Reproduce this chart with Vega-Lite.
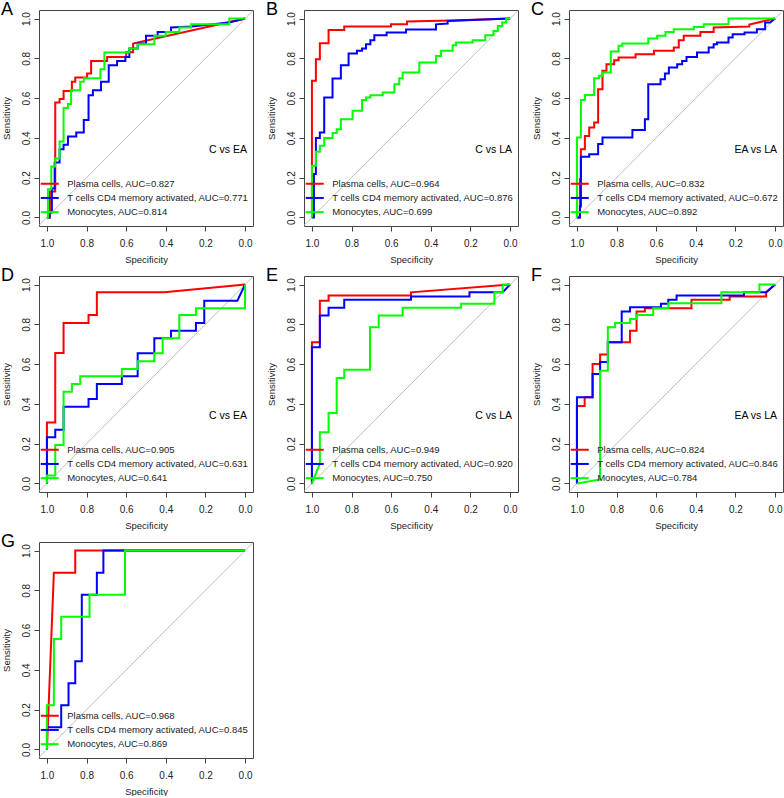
{
"$schema":"https://vega.github.io/schema/vega-lite/v6.json",
"padding":0,
"background":"white",
"datasets":{
"panels":[
{"p":"A","cmp":"C vs EA"},{"p":"B","cmp":"C vs LA"},{"p":"C","cmp":"EA vs LA"},
{"p":"D","cmp":"C vs EA"},{"p":"E","cmp":"C vs LA"},{"p":"F","cmp":"EA vs LA"},{"p":"G","cmp":""}
],
"roc":[
{"p":"A","s":"P","spec":1,"sens":0},{"p":"A","s":"P","spec":0.985,"sens":0},{"p":"A","s":"P","spec":0.985,"sens":0.13},{"p":"A","s":"P","spec":0.958,"sens":0.13},{"p":"A","s":"P","spec":0.958,"sens":0.578},{"p":"A","s":"P","spec":0.936,"sens":0.578},{"p":"A","s":"P","spec":0.936,"sens":0.595},{"p":"A","s":"P","spec":0.916,"sens":0.595},{"p":"A","s":"P","spec":0.916,"sens":0.636},{"p":"A","s":"P","spec":0.874,"sens":0.636},{"p":"A","s":"P","spec":0.874,"sens":0.682},{"p":"A","s":"P","spec":0.857,"sens":0.682},{"p":"A","s":"P","spec":0.857,"sens":0.703},{"p":"A","s":"P","spec":0.797,"sens":0.703},{"p":"A","s":"P","spec":0.797,"sens":0.724},{"p":"A","s":"P","spec":0.777,"sens":0.724},{"p":"A","s":"P","spec":0.777,"sens":0.787},{"p":"A","s":"P","spec":0.696,"sens":0.787},{"p":"A","s":"P","spec":0.696,"sens":0.807},{"p":"A","s":"P","spec":0.6,"sens":0.807},{"p":"A","s":"P","spec":0.6,"sens":0.83},{"p":"A","s":"P","spec":0.565,"sens":0.83},{"p":"A","s":"P","spec":0.565,"sens":0.874},{"p":"A","s":"P","spec":0,"sens":1},
{"p":"A","s":"T","spec":1,"sens":0},{"p":"A","s":"T","spec":0.987,"sens":0},{"p":"A","s":"T","spec":0.987,"sens":0.025},{"p":"A","s":"T","spec":0.975,"sens":0.025},{"p":"A","s":"T","spec":0.975,"sens":0.146},{"p":"A","s":"T","spec":0.961,"sens":0.146},{"p":"A","s":"T","spec":0.961,"sens":0.276},{"p":"A","s":"T","spec":0.936,"sens":0.276},{"p":"A","s":"T","spec":0.936,"sens":0.343},{"p":"A","s":"T","spec":0.916,"sens":0.343},{"p":"A","s":"T","spec":0.916,"sens":0.365},{"p":"A","s":"T","spec":0.894,"sens":0.365},{"p":"A","s":"T","spec":0.894,"sens":0.407},{"p":"A","s":"T","spec":0.852,"sens":0.407},{"p":"A","s":"T","spec":0.852,"sens":0.427},{"p":"A","s":"T","spec":0.814,"sens":0.427},{"p":"A","s":"T","spec":0.814,"sens":0.49},{"p":"A","s":"T","spec":0.79,"sens":0.49},{"p":"A","s":"T","spec":0.79,"sens":0.615},{"p":"A","s":"T","spec":0.768,"sens":0.615},{"p":"A","s":"T","spec":0.768,"sens":0.64},{"p":"A","s":"T","spec":0.727,"sens":0.64},{"p":"A","s":"T","spec":0.727,"sens":0.682},{"p":"A","s":"T","spec":0.688,"sens":0.682},{"p":"A","s":"T","spec":0.688,"sens":0.765},{"p":"A","s":"T","spec":0.646,"sens":0.765},{"p":"A","s":"T","spec":0.646,"sens":0.787},{"p":"A","s":"T","spec":0.604,"sens":0.787},{"p":"A","s":"T","spec":0.604,"sens":0.807},{"p":"A","s":"T","spec":0.584,"sens":0.807},{"p":"A","s":"T","spec":0.584,"sens":0.849},{"p":"A","s":"T","spec":0.542,"sens":0.849},{"p":"A","s":"T","spec":0.542,"sens":0.874},{"p":"A","s":"T","spec":0.5,"sens":0.874},{"p":"A","s":"T","spec":0.5,"sens":0.913},{"p":"A","s":"T","spec":0.441,"sens":0.913},{"p":"A","s":"T","spec":0.441,"sens":0.933},{"p":"A","s":"T","spec":0.374,"sens":0.933},{"p":"A","s":"T","spec":0.374,"sens":0.955},{"p":"A","s":"T","spec":0.27,"sens":0.96},{"p":"A","s":"T","spec":0.08,"sens":0.98},{"p":"A","s":"T","spec":0,"sens":1},
{"p":"A","s":"M","spec":1,"sens":0},{"p":"A","s":"M","spec":0.995,"sens":0},{"p":"A","s":"M","spec":0.995,"sens":0.142},{"p":"A","s":"M","spec":0.978,"sens":0.142},{"p":"A","s":"M","spec":0.978,"sens":0.256},{"p":"A","s":"M","spec":0.958,"sens":0.256},{"p":"A","s":"M","spec":0.958,"sens":0.296},{"p":"A","s":"M","spec":0.936,"sens":0.296},{"p":"A","s":"M","spec":0.936,"sens":0.382},{"p":"A","s":"M","spec":0.916,"sens":0.382},{"p":"A","s":"M","spec":0.916,"sens":0.55},{"p":"A","s":"M","spec":0.894,"sens":0.55},{"p":"A","s":"M","spec":0.894,"sens":0.57},{"p":"A","s":"M","spec":0.878,"sens":0.57},{"p":"A","s":"M","spec":0.878,"sens":0.64},{"p":"A","s":"M","spec":0.832,"sens":0.64},{"p":"A","s":"M","spec":0.832,"sens":0.682},{"p":"A","s":"M","spec":0.814,"sens":0.682},{"p":"A","s":"M","spec":0.814,"sens":0.7},{"p":"A","s":"M","spec":0.73,"sens":0.7},{"p":"A","s":"M","spec":0.73,"sens":0.745},{"p":"A","s":"M","spec":0.71,"sens":0.745},{"p":"A","s":"M","spec":0.71,"sens":0.829},{"p":"A","s":"M","spec":0.584,"sens":0.829},{"p":"A","s":"M","spec":0.584,"sens":0.849},{"p":"A","s":"M","spec":0.542,"sens":0.849},{"p":"A","s":"M","spec":0.542,"sens":0.871},{"p":"A","s":"M","spec":0.458,"sens":0.871},{"p":"A","s":"M","spec":0.458,"sens":0.913},{"p":"A","s":"M","spec":0.4,"sens":0.913},{"p":"A","s":"M","spec":0.4,"sens":0.933},{"p":"A","s":"M","spec":0.332,"sens":0.933},{"p":"A","s":"M","spec":0.332,"sens":0.955},{"p":"A","s":"M","spec":0.273,"sens":0.955},{"p":"A","s":"M","spec":0.273,"sens":0.971},{"p":"A","s":"M","spec":0.08,"sens":0.971},{"p":"A","s":"M","spec":0.08,"sens":1},{"p":"A","s":"M","spec":0,"sens":1},

{"p":"B","s":"P","spec":1,"sens":0},{"p":"B","s":"P","spec":1,"sens":0.687},{"p":"B","s":"P","spec":0.98,"sens":0.687},{"p":"B","s":"P","spec":0.98,"sens":0.796},{"p":"B","s":"P","spec":0.96,"sens":0.796},{"p":"B","s":"P","spec":0.96,"sens":0.876},{"p":"B","s":"P","spec":0.916,"sens":0.876},{"p":"B","s":"P","spec":0.916,"sens":0.943},{"p":"B","s":"P","spec":0.837,"sens":0.943},{"p":"B","s":"P","spec":0.837,"sens":0.96},{"p":"B","s":"P","spec":0.601,"sens":0.96},{"p":"B","s":"P","spec":0.601,"sens":0.971},{"p":"B","s":"P","spec":0.52,"sens":0.971},{"p":"B","s":"P","spec":0.52,"sens":0.985},{"p":"B","s":"P","spec":0.3,"sens":0.99},{"p":"B","s":"P","spec":0,"sens":1},
{"p":"B","s":"T","spec":1,"sens":0},{"p":"B","s":"T","spec":0.99,"sens":0},{"p":"B","s":"T","spec":0.99,"sens":0.218},{"p":"B","s":"T","spec":0.98,"sens":0.218},{"p":"B","s":"T","spec":0.98,"sens":0.399},{"p":"B","s":"T","spec":0.96,"sens":0.399},{"p":"B","s":"T","spec":0.96,"sens":0.427},{"p":"B","s":"T","spec":0.938,"sens":0.427},{"p":"B","s":"T","spec":0.938,"sens":0.603},{"p":"B","s":"T","spec":0.896,"sens":0.603},{"p":"B","s":"T","spec":0.896,"sens":0.698},{"p":"B","s":"T","spec":0.854,"sens":0.698},{"p":"B","s":"T","spec":0.854,"sens":0.765},{"p":"B","s":"T","spec":0.815,"sens":0.765},{"p":"B","s":"T","spec":0.815,"sens":0.824},{"p":"B","s":"T","spec":0.773,"sens":0.824},{"p":"B","s":"T","spec":0.773,"sens":0.838},{"p":"B","s":"T","spec":0.747,"sens":0.838},{"p":"B","s":"T","spec":0.747,"sens":0.849},{"p":"B","s":"T","spec":0.727,"sens":0.849},{"p":"B","s":"T","spec":0.727,"sens":0.871},{"p":"B","s":"T","spec":0.705,"sens":0.871},{"p":"B","s":"T","spec":0.705,"sens":0.891},{"p":"B","s":"T","spec":0.685,"sens":0.891},{"p":"B","s":"T","spec":0.685,"sens":0.916},{"p":"B","s":"T","spec":0.623,"sens":0.916},{"p":"B","s":"T","spec":0.623,"sens":0.93},{"p":"B","s":"T","spec":0.525,"sens":0.93},{"p":"B","s":"T","spec":0.525,"sens":0.945},{"p":"B","s":"T","spec":0.374,"sens":0.945},{"p":"B","s":"T","spec":0.374,"sens":0.971},{"p":"B","s":"T","spec":0.315,"sens":0.975},{"p":"B","s":"T","spec":0.315,"sens":0.988},{"p":"B","s":"T","spec":0,"sens":1},
{"p":"B","s":"M","spec":1,"sens":0},{"p":"B","s":"M","spec":1,"sens":0.26},{"p":"B","s":"M","spec":0.98,"sens":0.26},{"p":"B","s":"M","spec":0.98,"sens":0.33},{"p":"B","s":"M","spec":0.96,"sens":0.33},{"p":"B","s":"M","spec":0.96,"sens":0.36},{"p":"B","s":"M","spec":0.938,"sens":0.36},{"p":"B","s":"M","spec":0.938,"sens":0.399},{"p":"B","s":"M","spec":0.896,"sens":0.399},{"p":"B","s":"M","spec":0.896,"sens":0.424},{"p":"B","s":"M","spec":0.875,"sens":0.424},{"p":"B","s":"M","spec":0.875,"sens":0.444},{"p":"B","s":"M","spec":0.854,"sens":0.444},{"p":"B","s":"M","spec":0.854,"sens":0.494},{"p":"B","s":"M","spec":0.795,"sens":0.494},{"p":"B","s":"M","spec":0.795,"sens":0.536},{"p":"B","s":"M","spec":0.747,"sens":0.536},{"p":"B","s":"M","spec":0.747,"sens":0.59},{"p":"B","s":"M","spec":0.727,"sens":0.59},{"p":"B","s":"M","spec":0.727,"sens":0.603},{"p":"B","s":"M","spec":0.705,"sens":0.603},{"p":"B","s":"M","spec":0.705,"sens":0.615},{"p":"B","s":"M","spec":0.643,"sens":0.615},{"p":"B","s":"M","spec":0.643,"sens":0.628},{"p":"B","s":"M","spec":0.584,"sens":0.628},{"p":"B","s":"M","spec":0.584,"sens":0.67},{"p":"B","s":"M","spec":0.559,"sens":0.67},{"p":"B","s":"M","spec":0.559,"sens":0.7},{"p":"B","s":"M","spec":0.542,"sens":0.7},{"p":"B","s":"M","spec":0.542,"sens":0.729},{"p":"B","s":"M","spec":0.458,"sens":0.729},{"p":"B","s":"M","spec":0.458,"sens":0.779},{"p":"B","s":"M","spec":0.374,"sens":0.779},{"p":"B","s":"M","spec":0.374,"sens":0.812},{"p":"B","s":"M","spec":0.348,"sens":0.812},{"p":"B","s":"M","spec":0.348,"sens":0.838},{"p":"B","s":"M","spec":0.29,"sens":0.838},{"p":"B","s":"M","spec":0.29,"sens":0.866},{"p":"B","s":"M","spec":0.273,"sens":0.866},{"p":"B","s":"M","spec":0.273,"sens":0.879},{"p":"B","s":"M","spec":0.189,"sens":0.879},{"p":"B","s":"M","spec":0.189,"sens":0.891},{"p":"B","s":"M","spec":0.125,"sens":0.891},{"p":"B","s":"M","spec":0.125,"sens":0.916},{"p":"B","s":"M","spec":0.084,"sens":0.916},{"p":"B","s":"M","spec":0.084,"sens":0.938},{"p":"B","s":"M","spec":0.062,"sens":0.938},{"p":"B","s":"M","spec":0.062,"sens":0.962},{"p":"B","s":"M","spec":0.04,"sens":0.962},{"p":"B","s":"M","spec":0.04,"sens":0.98},{"p":"B","s":"M","spec":0.02,"sens":0.98},{"p":"B","s":"M","spec":0.02,"sens":1},{"p":"B","s":"M","spec":0,"sens":1},

{"p":"C","s":"P","spec":1,"sens":0},{"p":"C","s":"P","spec":0.985,"sens":0},{"p":"C","s":"P","spec":0.985,"sens":0.193},{"p":"C","s":"P","spec":0.98,"sens":0.193},{"p":"C","s":"P","spec":0.98,"sens":0.343},{"p":"C","s":"P","spec":0.96,"sens":0.343},{"p":"C","s":"P","spec":0.96,"sens":0.41},{"p":"C","s":"P","spec":0.938,"sens":0.41},{"p":"C","s":"P","spec":0.938,"sens":0.452},{"p":"C","s":"P","spec":0.913,"sens":0.452},{"p":"C","s":"P","spec":0.913,"sens":0.477},{"p":"C","s":"P","spec":0.893,"sens":0.477},{"p":"C","s":"P","spec":0.893,"sens":0.645},{"p":"C","s":"P","spec":0.871,"sens":0.645},{"p":"C","s":"P","spec":0.871,"sens":0.737},{"p":"C","s":"P","spec":0.851,"sens":0.737},{"p":"C","s":"P","spec":0.851,"sens":0.77},{"p":"C","s":"P","spec":0.812,"sens":0.77},{"p":"C","s":"P","spec":0.812,"sens":0.79},{"p":"C","s":"P","spec":0.79,"sens":0.79},{"p":"C","s":"P","spec":0.79,"sens":0.804},{"p":"C","s":"P","spec":0.704,"sens":0.804},{"p":"C","s":"P","spec":0.704,"sens":0.821},{"p":"C","s":"P","spec":0.611,"sens":0.821},{"p":"C","s":"P","spec":0.611,"sens":0.838},{"p":"C","s":"P","spec":0.511,"sens":0.838},{"p":"C","s":"P","spec":0.511,"sens":0.854},{"p":"C","s":"P","spec":0.486,"sens":0.854},{"p":"C","s":"P","spec":0.486,"sens":0.891},{"p":"C","s":"P","spec":0.461,"sens":0.891},{"p":"C","s":"P","spec":0.461,"sens":0.913},{"p":"C","s":"P","spec":0.377,"sens":0.913},{"p":"C","s":"P","spec":0.377,"sens":0.933},{"p":"C","s":"P","spec":0.31,"sens":0.933},{"p":"C","s":"P","spec":0.31,"sens":0.955},{"p":"C","s":"P","spec":0.13,"sens":0.96},{"p":"C","s":"P","spec":0.13,"sens":0.97},{"p":"C","s":"P","spec":0,"sens":1},
{"p":"C","s":"T","spec":1,"sens":0},{"p":"C","s":"T","spec":0.985,"sens":0},{"p":"C","s":"T","spec":0.985,"sens":0.055},{"p":"C","s":"T","spec":0.98,"sens":0.055},{"p":"C","s":"T","spec":0.98,"sens":0.305},{"p":"C","s":"T","spec":0.938,"sens":0.305},{"p":"C","s":"T","spec":0.938,"sens":0.318},{"p":"C","s":"T","spec":0.893,"sens":0.318},{"p":"C","s":"T","spec":0.893,"sens":0.369},{"p":"C","s":"T","spec":0.871,"sens":0.369},{"p":"C","s":"T","spec":0.871,"sens":0.402},{"p":"C","s":"T","spec":0.72,"sens":0.402},{"p":"C","s":"T","spec":0.72,"sens":0.44},{"p":"C","s":"T","spec":0.657,"sens":0.44},{"p":"C","s":"T","spec":0.657,"sens":0.494},{"p":"C","s":"T","spec":0.64,"sens":0.494},{"p":"C","s":"T","spec":0.64,"sens":0.67},{"p":"C","s":"T","spec":0.578,"sens":0.67},{"p":"C","s":"T","spec":0.578,"sens":0.695},{"p":"C","s":"T","spec":0.556,"sens":0.695},{"p":"C","s":"T","spec":0.556,"sens":0.724},{"p":"C","s":"T","spec":0.536,"sens":0.724},{"p":"C","s":"T","spec":0.536,"sens":0.754},{"p":"C","s":"T","spec":0.494,"sens":0.754},{"p":"C","s":"T","spec":0.494,"sens":0.77},{"p":"C","s":"T","spec":0.469,"sens":0.77},{"p":"C","s":"T","spec":0.469,"sens":0.787},{"p":"C","s":"T","spec":0.447,"sens":0.787},{"p":"C","s":"T","spec":0.447,"sens":0.807},{"p":"C","s":"T","spec":0.394,"sens":0.807},{"p":"C","s":"T","spec":0.394,"sens":0.829},{"p":"C","s":"T","spec":0.335,"sens":0.829},{"p":"C","s":"T","spec":0.335,"sens":0.854},{"p":"C","s":"T","spec":0.31,"sens":0.854},{"p":"C","s":"T","spec":0.31,"sens":0.871},{"p":"C","s":"T","spec":0.293,"sens":0.871},{"p":"C","s":"T","spec":0.293,"sens":0.879},{"p":"C","s":"T","spec":0.235,"sens":0.879},{"p":"C","s":"T","spec":0.235,"sens":0.905},{"p":"C","s":"T","spec":0.214,"sens":0.905},{"p":"C","s":"T","spec":0.214,"sens":0.921},{"p":"C","s":"T","spec":0.154,"sens":0.921},{"p":"C","s":"T","spec":0.154,"sens":0.93},{"p":"C","s":"T","spec":0.092,"sens":0.93},{"p":"C","s":"T","spec":0.092,"sens":0.946},{"p":"C","s":"T","spec":0.05,"sens":0.946},{"p":"C","s":"T","spec":0.05,"sens":0.98},{"p":"C","s":"T","spec":0.025,"sens":0.98},{"p":"C","s":"T","spec":0,"sens":1},
{"p":"C","s":"M","spec":1,"sens":0},{"p":"C","s":"M","spec":1,"sens":0.402},{"p":"C","s":"M","spec":0.98,"sens":0.402},{"p":"C","s":"M","spec":0.98,"sens":0.591},{"p":"C","s":"M","spec":0.96,"sens":0.591},{"p":"C","s":"M","spec":0.96,"sens":0.616},{"p":"C","s":"M","spec":0.913,"sens":0.616},{"p":"C","s":"M","spec":0.913,"sens":0.7},{"p":"C","s":"M","spec":0.888,"sens":0.7},{"p":"C","s":"M","spec":0.888,"sens":0.712},{"p":"C","s":"M","spec":0.871,"sens":0.712},{"p":"C","s":"M","spec":0.871,"sens":0.729},{"p":"C","s":"M","spec":0.829,"sens":0.729},{"p":"C","s":"M","spec":0.829,"sens":0.834},{"p":"C","s":"M","spec":0.79,"sens":0.834},{"p":"C","s":"M","spec":0.79,"sens":0.863},{"p":"C","s":"M","spec":0.771,"sens":0.863},{"p":"C","s":"M","spec":0.771,"sens":0.874},{"p":"C","s":"M","spec":0.64,"sens":0.874},{"p":"C","s":"M","spec":0.64,"sens":0.9},{"p":"C","s":"M","spec":0.595,"sens":0.9},{"p":"C","s":"M","spec":0.595,"sens":0.913},{"p":"C","s":"M","spec":0.553,"sens":0.913},{"p":"C","s":"M","spec":0.553,"sens":0.933},{"p":"C","s":"M","spec":0.511,"sens":0.933},{"p":"C","s":"M","spec":0.511,"sens":0.946},{"p":"C","s":"M","spec":0.41,"sens":0.946},{"p":"C","s":"M","spec":0.41,"sens":0.958},{"p":"C","s":"M","spec":0.36,"sens":0.958},{"p":"C","s":"M","spec":0.36,"sens":0.971},{"p":"C","s":"M","spec":0.235,"sens":0.971},{"p":"C","s":"M","spec":0.235,"sens":1},{"p":"C","s":"M","spec":0,"sens":1},

{"p":"D","s":"P","spec":1,"sens":0},{"p":"D","s":"P","spec":1,"sens":0.307},{"p":"D","s":"P","spec":0.958,"sens":0.307},{"p":"D","s":"P","spec":0.958,"sens":0.656},{"p":"D","s":"P","spec":0.916,"sens":0.656},{"p":"D","s":"P","spec":0.916,"sens":0.807},{"p":"D","s":"P","spec":0.79,"sens":0.807},{"p":"D","s":"P","spec":0.79,"sens":0.847},{"p":"D","s":"P","spec":0.748,"sens":0.847},{"p":"D","s":"P","spec":0.748,"sens":0.961},{"p":"D","s":"P","spec":0.408,"sens":0.961},{"p":"D","s":"P","spec":0,"sens":1},
{"p":"D","s":"T","spec":1,"sens":0},{"p":"D","s":"T","spec":1,"sens":0.232},{"p":"D","s":"T","spec":0.958,"sens":0.232},{"p":"D","s":"T","spec":0.958,"sens":0.27},{"p":"D","s":"T","spec":0.916,"sens":0.27},{"p":"D","s":"T","spec":0.916,"sens":0.386},{"p":"D","s":"T","spec":0.79,"sens":0.386},{"p":"D","s":"T","spec":0.79,"sens":0.424},{"p":"D","s":"T","spec":0.748,"sens":0.424},{"p":"D","s":"T","spec":0.748,"sens":0.5},{"p":"D","s":"T","spec":0.622,"sens":0.5},{"p":"D","s":"T","spec":0.622,"sens":0.539},{"p":"D","s":"T","spec":0.542,"sens":0.539},{"p":"D","s":"T","spec":0.542,"sens":0.654},{"p":"D","s":"T","spec":0.458,"sens":0.654},{"p":"D","s":"T","spec":0.458,"sens":0.73},{"p":"D","s":"T","spec":0.374,"sens":0.73},{"p":"D","s":"T","spec":0.374,"sens":0.768},{"p":"D","s":"T","spec":0.248,"sens":0.768},{"p":"D","s":"T","spec":0.248,"sens":0.807},{"p":"D","s":"T","spec":0.206,"sens":0.807},{"p":"D","s":"T","spec":0.206,"sens":0.919},{"p":"D","s":"T","spec":0.039,"sens":0.919},{"p":"D","s":"T","spec":0,"sens":1},
{"p":"D","s":"M","spec":1,"sens":0},{"p":"D","s":"M","spec":1,"sens":0.04},{"p":"D","s":"M","spec":0.958,"sens":0.04},{"p":"D","s":"M","spec":0.958,"sens":0.193},{"p":"D","s":"M","spec":0.916,"sens":0.193},{"p":"D","s":"M","spec":0.916,"sens":0.461},{"p":"D","s":"M","spec":0.874,"sens":0.461},{"p":"D","s":"M","spec":0.874,"sens":0.5},{"p":"D","s":"M","spec":0.832,"sens":0.5},{"p":"D","s":"M","spec":0.832,"sens":0.539},{"p":"D","s":"M","spec":0.622,"sens":0.539},{"p":"D","s":"M","spec":0.622,"sens":0.576},{"p":"D","s":"M","spec":0.542,"sens":0.576},{"p":"D","s":"M","spec":0.542,"sens":0.614},{"p":"D","s":"M","spec":0.458,"sens":0.614},{"p":"D","s":"M","spec":0.458,"sens":0.654},{"p":"D","s":"M","spec":0.416,"sens":0.654},{"p":"D","s":"M","spec":0.416,"sens":0.73},{"p":"D","s":"M","spec":0.332,"sens":0.73},{"p":"D","s":"M","spec":0.332,"sens":0.847},{"p":"D","s":"M","spec":0.248,"sens":0.847},{"p":"D","s":"M","spec":0.248,"sens":0.881},{"p":"D","s":"M","spec":0,"sens":0.881},{"p":"D","s":"M","spec":0,"sens":1},

{"p":"E","s":"P","spec":1,"sens":0},{"p":"E","s":"P","spec":1,"sens":0.71},{"p":"E","s":"P","spec":0.96,"sens":0.71},{"p":"E","s":"P","spec":0.96,"sens":0.919},{"p":"E","s":"P","spec":0.916,"sens":0.919},{"p":"E","s":"P","spec":0.916,"sens":0.945},{"p":"E","s":"P","spec":0.5,"sens":0.945},{"p":"E","s":"P","spec":0.5,"sens":0.961},{"p":"E","s":"P","spec":0,"sens":1},
{"p":"E","s":"T","spec":1,"sens":0},{"p":"E","s":"T","spec":1,"sens":0.685},{"p":"E","s":"T","spec":0.96,"sens":0.685},{"p":"E","s":"T","spec":0.96,"sens":0.844},{"p":"E","s":"T","spec":0.916,"sens":0.844},{"p":"E","s":"T","spec":0.916,"sens":0.883},{"p":"E","s":"T","spec":0.837,"sens":0.883},{"p":"E","s":"T","spec":0.837,"sens":0.923},{"p":"E","s":"T","spec":0.5,"sens":0.923},{"p":"E","s":"T","spec":0.5,"sens":0.94},{"p":"E","s":"T","spec":0.205,"sens":0.94},{"p":"E","s":"T","spec":0.205,"sens":0.961},{"p":"E","s":"T","spec":0.037,"sens":0.961},{"p":"E","s":"T","spec":0,"sens":1},
{"p":"E","s":"M","spec":1,"sens":0},{"p":"E","s":"M","spec":0.96,"sens":0.1},{"p":"E","s":"M","spec":0.96,"sens":0.257},{"p":"E","s":"M","spec":0.916,"sens":0.257},{"p":"E","s":"M","spec":0.916,"sens":0.354},{"p":"E","s":"M","spec":0.875,"sens":0.354},{"p":"E","s":"M","spec":0.875,"sens":0.53},{"p":"E","s":"M","spec":0.837,"sens":0.53},{"p":"E","s":"M","spec":0.837,"sens":0.572},{"p":"E","s":"M","spec":0.707,"sens":0.572},{"p":"E","s":"M","spec":0.707,"sens":0.785},{"p":"E","s":"M","spec":0.663,"sens":0.785},{"p":"E","s":"M","spec":0.663,"sens":0.844},{"p":"E","s":"M","spec":0.542,"sens":0.844},{"p":"E","s":"M","spec":0.542,"sens":0.883},{"p":"E","s":"M","spec":0.247,"sens":0.883},{"p":"E","s":"M","spec":0.247,"sens":0.903},{"p":"E","s":"M","spec":0.079,"sens":0.903},{"p":"E","s":"M","spec":0.079,"sens":0.961},{"p":"E","s":"M","spec":0.037,"sens":0.961},{"p":"E","s":"M","spec":0.037,"sens":1},{"p":"E","s":"M","spec":0,"sens":1},

{"p":"F","s":"P","spec":1,"sens":0},{"p":"F","s":"P","spec":1,"sens":0.39},{"p":"F","s":"P","spec":0.961,"sens":0.39},{"p":"F","s":"P","spec":0.961,"sens":0.433},{"p":"F","s":"P","spec":0.921,"sens":0.433},{"p":"F","s":"P","spec":0.921,"sens":0.6},{"p":"F","s":"P","spec":0.883,"sens":0.6},{"p":"F","s":"P","spec":0.883,"sens":0.648},{"p":"F","s":"P","spec":0.844,"sens":0.648},{"p":"F","s":"P","spec":0.844,"sens":0.71},{"p":"F","s":"P","spec":0.732,"sens":0.71},{"p":"F","s":"P","spec":0.732,"sens":0.768},{"p":"F","s":"P","spec":0.699,"sens":0.768},{"p":"F","s":"P","spec":0.699,"sens":0.864},{"p":"F","s":"P","spec":0.657,"sens":0.864},{"p":"F","s":"P","spec":0.657,"sens":0.881},{"p":"F","s":"P","spec":0.422,"sens":0.881},{"p":"F","s":"P","spec":0.422,"sens":0.923},{"p":"F","s":"P","spec":0.229,"sens":0.923},{"p":"F","s":"P","spec":0.229,"sens":0.94},{"p":"F","s":"P","spec":0.045,"sens":0.94},{"p":"F","s":"P","spec":0.045,"sens":0.961},{"p":"F","s":"P","spec":0,"sens":1},
{"p":"F","s":"T","spec":1,"sens":0},{"p":"F","s":"T","spec":1,"sens":0.433},{"p":"F","s":"T","spec":0.921,"sens":0.433},{"p":"F","s":"T","spec":0.921,"sens":0.55},{"p":"F","s":"T","spec":0.883,"sens":0.55},{"p":"F","s":"T","spec":0.883,"sens":0.61},{"p":"F","s":"T","spec":0.844,"sens":0.61},{"p":"F","s":"T","spec":0.844,"sens":0.71},{"p":"F","s":"T","spec":0.774,"sens":0.71},{"p":"F","s":"T","spec":0.774,"sens":0.864},{"p":"F","s":"T","spec":0.732,"sens":0.864},{"p":"F","s":"T","spec":0.732,"sens":0.886},{"p":"F","s":"T","spec":0.576,"sens":0.886},{"p":"F","s":"T","spec":0.576,"sens":0.903},{"p":"F","s":"T","spec":0.539,"sens":0.903},{"p":"F","s":"T","spec":0.539,"sens":0.923},{"p":"F","s":"T","spec":0.497,"sens":0.923},{"p":"F","s":"T","spec":0.497,"sens":0.945},{"p":"F","s":"T","spec":0.157,"sens":0.945},{"p":"F","s":"T","spec":0.157,"sens":0.961},{"p":"F","s":"T","spec":0.045,"sens":0.961},{"p":"F","s":"T","spec":0,"sens":1},
{"p":"F","s":"M","spec":1,"sens":0},{"p":"F","s":"M","spec":0.883,"sens":0.02},{"p":"F","s":"M","spec":0.883,"sens":0.567},{"p":"F","s":"M","spec":0.844,"sens":0.567},{"p":"F","s":"M","spec":0.844,"sens":0.785},{"p":"F","s":"M","spec":0.807,"sens":0.785},{"p":"F","s":"M","spec":0.807,"sens":0.807},{"p":"F","s":"M","spec":0.732,"sens":0.807},{"p":"F","s":"M","spec":0.732,"sens":0.827},{"p":"F","s":"M","spec":0.699,"sens":0.827},{"p":"F","s":"M","spec":0.699,"sens":0.847},{"p":"F","s":"M","spec":0.615,"sens":0.847},{"p":"F","s":"M","spec":0.615,"sens":0.881},{"p":"F","s":"M","spec":0.539,"sens":0.881},{"p":"F","s":"M","spec":0.539,"sens":0.906},{"p":"F","s":"M","spec":0.271,"sens":0.906},{"p":"F","s":"M","spec":0.271,"sens":0.961},{"p":"F","s":"M","spec":0.079,"sens":0.961},{"p":"F","s":"M","spec":0.079,"sens":1},{"p":"F","s":"M","spec":0,"sens":1},

{"p":"G","s":"P","spec":1,"sens":0},{"p":"G","s":"P","spec":0.965,"sens":0.889},{"p":"G","s":"P","spec":0.857,"sens":0.889},{"p":"G","s":"P","spec":0.857,"sens":1},{"p":"G","s":"P","spec":0,"sens":1},
{"p":"G","s":"T","spec":1,"sens":0},{"p":"G","s":"T","spec":1,"sens":0.111},{"p":"G","s":"T","spec":0.928,"sens":0.111},{"p":"G","s":"T","spec":0.928,"sens":0.222},{"p":"G","s":"T","spec":0.891,"sens":0.222},{"p":"G","s":"T","spec":0.891,"sens":0.333},{"p":"G","s":"T","spec":0.857,"sens":0.333},{"p":"G","s":"T","spec":0.857,"sens":0.444},{"p":"G","s":"T","spec":0.824,"sens":0.444},{"p":"G","s":"T","spec":0.824,"sens":0.778},{"p":"G","s":"T","spec":0.748,"sens":0.778},{"p":"G","s":"T","spec":0.748,"sens":0.889},{"p":"G","s":"T","spec":0.715,"sens":0.889},{"p":"G","s":"T","spec":0.715,"sens":1},{"p":"G","s":"T","spec":0,"sens":1},
{"p":"G","s":"M","spec":1,"sens":0},{"p":"G","s":"M","spec":1,"sens":0.222},{"p":"G","s":"M","spec":0.965,"sens":0.222},{"p":"G","s":"M","spec":0.965,"sens":0.555},{"p":"G","s":"M","spec":0.928,"sens":0.555},{"p":"G","s":"M","spec":0.928,"sens":0.667},{"p":"G","s":"M","spec":0.785,"sens":0.667},{"p":"G","s":"M","spec":0.785,"sens":0.778},{"p":"G","s":"M","spec":0.606,"sens":0.778},{"p":"G","s":"M","spec":0.606,"sens":1},{"p":"G","s":"M","spec":0,"sens":1}
]
},
"concat":[
{"width":214,"height":216,"title":"A","layer":[
 {"data":{"name":"panels"},"transform":[{"filter":"datum.p=='A'"}],"mark":{"type":"rule","color":"#BEBEBE","strokeWidth":1},"encoding":{"x":{"datum":1.04,"type":"quantitative","title":"Specificity"},"y":{"datum":-0.04,"type":"quantitative","title":"Sensitivity"},"x2":{"datum":-0.04},"y2":{"datum":1.04}}},
 {"data":{"name":"roc"},"transform":[{"filter":"datum.p=='A'"}],"mark":{"type":"line","strokeWidth":2},"encoding":{
  "x":{"field":"spec","type":"quantitative","title":"Specificity","scale":{"domain":[-0.04,1.04],"reverse":true,"nice":false,"zero":false},"axis":{"values":[0,0.2,0.4,0.6,0.8,1],"format":".1f"}},
  "y":{"field":"sens","type":"quantitative","title":"Sensitivity","scale":{"domain":[-0.043,1.043],"nice":false,"zero":false},"axis":{"values":[0,0.2,0.4,0.6,0.8,1],"format":".1f"}},
  "color":{"field":"s","type":"nominal","scale":{"domain":["P","T","M"],"range":["#FF0000","#0000FF","#00FF00"]},"legend":{"title":null,"symbolType":"M-6,0H3","symbolSize":16,"symbolStrokeWidth":2,"labelExpr":"datum.label=='P'?'Plasma cells, AUC=0.827':datum.label=='T'?'T cells CD4 memory activated, AUC=0.771':'Monocytes, AUC=0.814'"}},
  "order":[{"field":"spec","sort":"descending"},{"field":"sens","sort":"ascending"}]}},
 {"data":{"name":"panels"},"transform":[{"filter":"datum.p=='A'"}],"mark":{"type":"text","align":"right","baseline":"middle","fontSize":10.5,"color":"#000"},"encoding":{"x":{"datum":-0.01,"type":"quantitative","title":"Specificity"},"y":{"datum":0.34,"type":"quantitative","title":"Sensitivity"},"text":{"field":"cmp"}}}
]},
{"width":214,"height":216,"title":"B","layer":[
 {"data":{"name":"panels"},"transform":[{"filter":"datum.p=='B'"}],"mark":{"type":"rule","color":"#BEBEBE","strokeWidth":1},"encoding":{"x":{"datum":1.04,"type":"quantitative","title":"Specificity"},"y":{"datum":-0.04,"type":"quantitative","title":"Sensitivity"},"x2":{"datum":-0.04},"y2":{"datum":1.04}}},
 {"data":{"name":"roc"},"transform":[{"filter":"datum.p=='B'"}],"mark":{"type":"line","strokeWidth":2},"encoding":{
  "x":{"field":"spec","type":"quantitative","title":"Specificity","scale":{"domain":[-0.04,1.04],"reverse":true,"nice":false,"zero":false},"axis":{"values":[0,0.2,0.4,0.6,0.8,1],"format":".1f"}},
  "y":{"field":"sens","type":"quantitative","title":"Sensitivity","scale":{"domain":[-0.043,1.043],"nice":false,"zero":false},"axis":{"values":[0,0.2,0.4,0.6,0.8,1],"format":".1f"}},
  "color":{"field":"s","type":"nominal","scale":{"domain":["P","T","M"],"range":["#FF0000","#0000FF","#00FF00"]},"legend":{"title":null,"symbolType":"M-6,0H3","symbolSize":16,"symbolStrokeWidth":2,"labelExpr":"datum.label=='P'?'Plasma cells, AUC=0.964':datum.label=='T'?'T cells CD4 memory activated, AUC=0.876':'Monocytes, AUC=0.699'"}},
  "order":[{"field":"spec","sort":"descending"},{"field":"sens","sort":"ascending"}]}},
 {"data":{"name":"panels"},"transform":[{"filter":"datum.p=='B'"}],"mark":{"type":"text","align":"right","baseline":"middle","fontSize":10.5,"color":"#000"},"encoding":{"x":{"datum":-0.01,"type":"quantitative","title":"Specificity"},"y":{"datum":0.34,"type":"quantitative","title":"Sensitivity"},"text":{"field":"cmp"}}}
]},
{"width":214,"height":216,"title":"C","layer":[
 {"data":{"name":"panels"},"transform":[{"filter":"datum.p=='C'"}],"mark":{"type":"rule","color":"#BEBEBE","strokeWidth":1},"encoding":{"x":{"datum":1.04,"type":"quantitative","title":"Specificity"},"y":{"datum":-0.04,"type":"quantitative","title":"Sensitivity"},"x2":{"datum":-0.04},"y2":{"datum":1.04}}},
 {"data":{"name":"roc"},"transform":[{"filter":"datum.p=='C'"}],"mark":{"type":"line","strokeWidth":2},"encoding":{
  "x":{"field":"spec","type":"quantitative","title":"Specificity","scale":{"domain":[-0.04,1.04],"reverse":true,"nice":false,"zero":false},"axis":{"values":[0,0.2,0.4,0.6,0.8,1],"format":".1f"}},
  "y":{"field":"sens","type":"quantitative","title":"Sensitivity","scale":{"domain":[-0.043,1.043],"nice":false,"zero":false},"axis":{"values":[0,0.2,0.4,0.6,0.8,1],"format":".1f"}},
  "color":{"field":"s","type":"nominal","scale":{"domain":["P","T","M"],"range":["#FF0000","#0000FF","#00FF00"]},"legend":{"title":null,"symbolType":"M-6,0H3","symbolSize":16,"symbolStrokeWidth":2,"labelExpr":"datum.label=='P'?'Plasma cells, AUC=0.832':datum.label=='T'?'T cells CD4 memory activated, AUC=0.672':'Monocytes, AUC=0.892'"}},
  "order":[{"field":"spec","sort":"descending"},{"field":"sens","sort":"ascending"}]}},
 {"data":{"name":"panels"},"transform":[{"filter":"datum.p=='C'"}],"mark":{"type":"text","align":"right","baseline":"middle","fontSize":10.5,"color":"#000"},"encoding":{"x":{"datum":-0.01,"type":"quantitative","title":"Specificity"},"y":{"datum":0.34,"type":"quantitative","title":"Sensitivity"},"text":{"field":"cmp"}}}
]},
{"width":214,"height":216,"title":"D","layer":[
 {"data":{"name":"panels"},"transform":[{"filter":"datum.p=='D'"}],"mark":{"type":"rule","color":"#BEBEBE","strokeWidth":1},"encoding":{"x":{"datum":1.04,"type":"quantitative","title":"Specificity"},"y":{"datum":-0.04,"type":"quantitative","title":"Sensitivity"},"x2":{"datum":-0.04},"y2":{"datum":1.04}}},
 {"data":{"name":"roc"},"transform":[{"filter":"datum.p=='D'"}],"mark":{"type":"line","strokeWidth":2},"encoding":{
  "x":{"field":"spec","type":"quantitative","title":"Specificity","scale":{"domain":[-0.04,1.04],"reverse":true,"nice":false,"zero":false},"axis":{"values":[0,0.2,0.4,0.6,0.8,1],"format":".1f"}},
  "y":{"field":"sens","type":"quantitative","title":"Sensitivity","scale":{"domain":[-0.043,1.043],"nice":false,"zero":false},"axis":{"values":[0,0.2,0.4,0.6,0.8,1],"format":".1f"}},
  "color":{"field":"s","type":"nominal","scale":{"domain":["P","T","M"],"range":["#FF0000","#0000FF","#00FF00"]},"legend":{"title":null,"symbolType":"M-6,0H3","symbolSize":16,"symbolStrokeWidth":2,"labelExpr":"datum.label=='P'?'Plasma cells, AUC=0.905':datum.label=='T'?'T cells CD4 memory activated, AUC=0.631':'Monocytes, AUC=0.641'"}},
  "order":[{"field":"spec","sort":"descending"},{"field":"sens","sort":"ascending"}]}},
 {"data":{"name":"panels"},"transform":[{"filter":"datum.p=='D'"}],"mark":{"type":"text","align":"right","baseline":"middle","fontSize":10.5,"color":"#000"},"encoding":{"x":{"datum":-0.01,"type":"quantitative","title":"Specificity"},"y":{"datum":0.34,"type":"quantitative","title":"Sensitivity"},"text":{"field":"cmp"}}}
]},
{"width":214,"height":216,"title":"E","layer":[
 {"data":{"name":"panels"},"transform":[{"filter":"datum.p=='E'"}],"mark":{"type":"rule","color":"#BEBEBE","strokeWidth":1},"encoding":{"x":{"datum":1.04,"type":"quantitative","title":"Specificity"},"y":{"datum":-0.04,"type":"quantitative","title":"Sensitivity"},"x2":{"datum":-0.04},"y2":{"datum":1.04}}},
 {"data":{"name":"roc"},"transform":[{"filter":"datum.p=='E'"}],"mark":{"type":"line","strokeWidth":2},"encoding":{
  "x":{"field":"spec","type":"quantitative","title":"Specificity","scale":{"domain":[-0.04,1.04],"reverse":true,"nice":false,"zero":false},"axis":{"values":[0,0.2,0.4,0.6,0.8,1],"format":".1f"}},
  "y":{"field":"sens","type":"quantitative","title":"Sensitivity","scale":{"domain":[-0.043,1.043],"nice":false,"zero":false},"axis":{"values":[0,0.2,0.4,0.6,0.8,1],"format":".1f"}},
  "color":{"field":"s","type":"nominal","scale":{"domain":["P","T","M"],"range":["#FF0000","#0000FF","#00FF00"]},"legend":{"title":null,"symbolType":"M-6,0H3","symbolSize":16,"symbolStrokeWidth":2,"labelExpr":"datum.label=='P'?'Plasma cells, AUC=0.949':datum.label=='T'?'T cells CD4 memory activated, AUC=0.920':'Monocytes, AUC=0.750'"}},
  "order":[{"field":"spec","sort":"descending"},{"field":"sens","sort":"ascending"}]}},
 {"data":{"name":"panels"},"transform":[{"filter":"datum.p=='E'"}],"mark":{"type":"text","align":"right","baseline":"middle","fontSize":10.5,"color":"#000"},"encoding":{"x":{"datum":-0.01,"type":"quantitative","title":"Specificity"},"y":{"datum":0.34,"type":"quantitative","title":"Sensitivity"},"text":{"field":"cmp"}}}
]},
{"width":214,"height":216,"title":"F","layer":[
 {"data":{"name":"panels"},"transform":[{"filter":"datum.p=='F'"}],"mark":{"type":"rule","color":"#BEBEBE","strokeWidth":1},"encoding":{"x":{"datum":1.04,"type":"quantitative","title":"Specificity"},"y":{"datum":-0.04,"type":"quantitative","title":"Sensitivity"},"x2":{"datum":-0.04},"y2":{"datum":1.04}}},
 {"data":{"name":"roc"},"transform":[{"filter":"datum.p=='F'"}],"mark":{"type":"line","strokeWidth":2},"encoding":{
  "x":{"field":"spec","type":"quantitative","title":"Specificity","scale":{"domain":[-0.04,1.04],"reverse":true,"nice":false,"zero":false},"axis":{"values":[0,0.2,0.4,0.6,0.8,1],"format":".1f"}},
  "y":{"field":"sens","type":"quantitative","title":"Sensitivity","scale":{"domain":[-0.043,1.043],"nice":false,"zero":false},"axis":{"values":[0,0.2,0.4,0.6,0.8,1],"format":".1f"}},
  "color":{"field":"s","type":"nominal","scale":{"domain":["P","T","M"],"range":["#FF0000","#0000FF","#00FF00"]},"legend":{"title":null,"symbolType":"M-6,0H3","symbolSize":16,"symbolStrokeWidth":2,"labelExpr":"datum.label=='P'?'Plasma cells, AUC=0.824':datum.label=='T'?'T cells CD4 memory activated, AUC=0.846':'Monocytes, AUC=0.784'"}},
  "order":[{"field":"spec","sort":"descending"},{"field":"sens","sort":"ascending"}]}},
 {"data":{"name":"panels"},"transform":[{"filter":"datum.p=='F'"}],"mark":{"type":"text","align":"right","baseline":"middle","fontSize":10.5,"color":"#000"},"encoding":{"x":{"datum":-0.01,"type":"quantitative","title":"Specificity"},"y":{"datum":0.34,"type":"quantitative","title":"Sensitivity"},"text":{"field":"cmp"}}}
]},
{"width":214,"height":216,"title":"G","layer":[
 {"data":{"name":"panels"},"transform":[{"filter":"datum.p=='G'"}],"mark":{"type":"rule","color":"#BEBEBE","strokeWidth":1},"encoding":{"x":{"datum":1.04,"type":"quantitative","title":"Specificity"},"y":{"datum":-0.04,"type":"quantitative","title":"Sensitivity"},"x2":{"datum":-0.04},"y2":{"datum":1.04}}},
 {"data":{"name":"roc"},"transform":[{"filter":"datum.p=='G'"}],"mark":{"type":"line","strokeWidth":2},"encoding":{
  "x":{"field":"spec","type":"quantitative","title":"Specificity","scale":{"domain":[-0.04,1.04],"reverse":true,"nice":false,"zero":false},"axis":{"values":[0,0.2,0.4,0.6,0.8,1],"format":".1f"}},
  "y":{"field":"sens","type":"quantitative","title":"Sensitivity","scale":{"domain":[-0.043,1.043],"nice":false,"zero":false},"axis":{"values":[0,0.2,0.4,0.6,0.8,1],"format":".1f"}},
  "color":{"field":"s","type":"nominal","scale":{"domain":["P","T","M"],"range":["#FF0000","#0000FF","#00FF00"]},"legend":{"title":null,"symbolType":"M-6,0H3","symbolSize":16,"symbolStrokeWidth":2,"labelExpr":"datum.label=='P'?'Plasma cells, AUC=0.968':datum.label=='T'?'T cells CD4 memory activated, AUC=0.845':'Monocytes, AUC=0.869'"}},
  "order":[{"field":"spec","sort":"descending"},{"field":"sens","sort":"ascending"}]}}
]}
],
"columns":3,
"spacing":{"row":50,"column":51},
"bounds":"flush",
"resolve":{"scale":{"color":"independent","x":"independent","y":"independent"},"legend":{"color":"independent"},"axis":{"x":"independent","y":"independent"}},
"config":{
 "font":"Liberation Sans",
 "view":{"stroke":"#444","strokeWidth":1},
 "axis":{"grid":false,"domain":false,"tickSize":5,"tickColor":"#444","labelColor":"#222","titleColor":"#222","labelFontSize":10,"titleFontSize":9.5,"titleFontWeight":"normal","labelFont":"Liberation Sans","titleFont":"Liberation Sans"},
 "axisX":{"labelPadding":7,"titlePadding":6},
 "axisY":{"labelAngle":-90,"labelAlign":"center","labelBaseline":"bottom","labelPadding":3,"titlePadding":10},
 "legend":{"orient":"bottom-left","offset":9,"padding":0,"labelFontSize":9.5,"labelOffset":9.7,"rowPadding":3.2,"labelLimit":400,"labelColor":"#222","labelFont":"Liberation Sans"},
 "title":{"fontSize":18,"fontWeight":"normal","anchor":"start","frame":"bounds","offset":0,"dy":13,"baseline":"alphabetic","color":"#000","font":"Liberation Sans"}
}
}
